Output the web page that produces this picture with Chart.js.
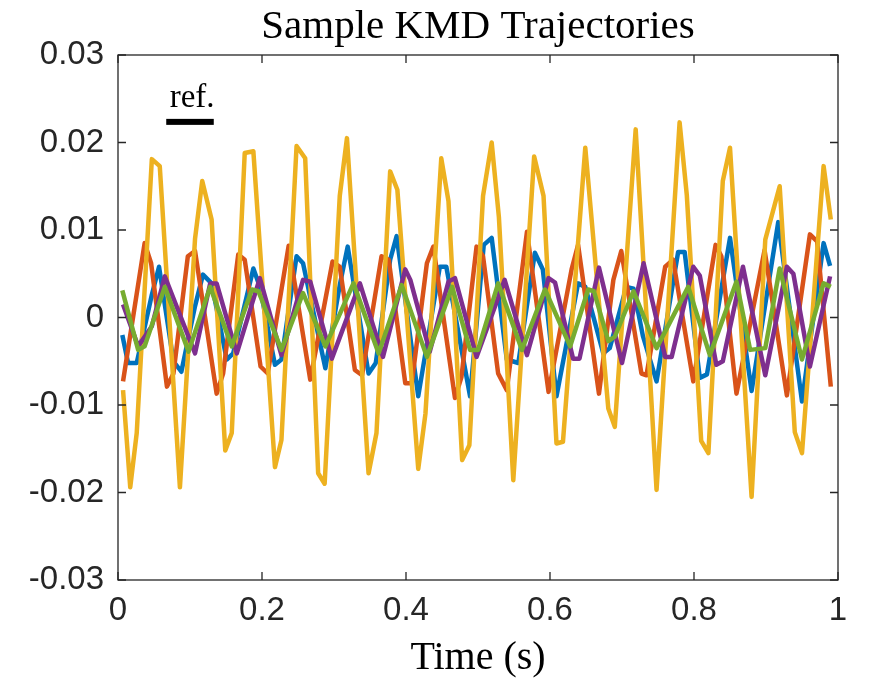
<!DOCTYPE html>
<html>
<head>
<meta charset="utf-8">
<script src="https://cdn.jsdelivr.net/npm/chart.js@4.4.0/dist/chart.umd.min.js"></script>
<style>
  html, body { margin: 0; padding: 0; background: #fff; }
  #wrap { width: 869px; height: 678px; }
</style>
</head>
<body>
<div id="wrap"><canvas id="kmdChart" width="869" height="678"></canvas></div>
<script>
// trajectory vertices (time in s, value)
const blueT = [0.006,0.014,0.026,0.047,0.057,0.077,0.088,0.107,0.118,0.130,0.151,0.160,0.188,0.197,0.218,0.227,0.248,0.257,0.288,0.308,0.319,0.348,0.358,0.378,0.387,0.417,0.447,0.456,0.489,0.508,0.519,0.540,0.556,0.579,0.590,0.609,0.639,0.649,0.674,0.683,0.706,0.716,0.729,0.748,0.778,0.787,0.808,0.818,0.850,0.880,0.917,0.950,0.980,0.989];
const blueV = [-0.0020,-0.0052,-0.0052,0.0026,0.0058,-0.0050,-0.0062,0.0013,0.0049,0.0039,-0.0048,-0.0041,0.0056,0.0035,-0.0054,-0.0048,0.0070,0.0062,-0.0058,0.0037,0.0081,-0.0064,-0.0052,0.0066,0.0093,-0.0090,0.0058,0.0058,-0.0090,0.0083,0.0091,-0.0048,-0.0052,0.0074,0.0055,-0.0090,0.0039,0.0035,-0.0041,-0.0035,0.0035,0.0033,-0.0021,-0.0073,0.0075,0.0075,-0.0069,-0.0065,0.0091,-0.0084,0.0109,-0.0096,0.0085,0.0059];

const orangeT = [0.007,0.037,0.046,0.068,0.077,0.097,0.107,0.137,0.146,0.167,0.176,0.198,0.208,0.237,0.267,0.298,0.308,0.329,0.339,0.366,0.376,0.399,0.408,0.429,0.438,0.468,0.477,0.498,0.507,0.528,0.540,0.568,0.598,0.630,0.639,0.668,0.688,0.699,0.727,0.734,0.760,0.771,0.799,0.830,0.838,0.859,0.898,0.929,0.961,0.971,0.990];
const orangeV = [-0.0073,0.0085,0.0062,-0.0079,-0.0064,0.0070,0.0076,-0.0087,-0.0064,0.0072,0.0066,-0.0056,-0.0064,0.0082,-0.0071,0.0064,0.0058,-0.0060,-0.0066,0.0070,0.0066,-0.0075,-0.0075,0.0062,0.0081,-0.0092,-0.0068,0.0081,0.0070,-0.0064,-0.0083,0.0098,-0.0085,0.0055,0.0083,-0.0087,0.0043,0.0076,-0.0064,-0.0066,0.0058,0.0066,-0.0073,0.0083,0.0070,-0.0087,0.0077,-0.0089,0.0095,0.0087,-0.0079];

const yellowT = [0.007,0.017,0.026,0.047,0.058,0.086,0.107,0.117,0.130,0.149,0.158,0.176,0.188,0.218,0.227,0.248,0.260,0.278,0.287,0.308,0.318,0.348,0.359,0.378,0.388,0.417,0.427,0.449,0.459,0.478,0.488,0.507,0.519,0.529,0.549,0.578,0.591,0.609,0.618,0.649,0.681,0.690,0.719,0.748,0.780,0.790,0.810,0.820,0.840,0.850,0.880,0.899,0.919,0.940,0.950,0.980,0.990];
const yellowV = [-0.0083,-0.0194,-0.0132,0.0181,0.0173,-0.0194,0.0090,0.0156,0.0112,-0.0152,-0.0132,0.0188,0.0190,-0.0171,-0.0140,0.0196,0.0182,-0.0178,-0.0190,0.0139,0.0205,-0.0178,-0.0132,0.0167,0.0146,-0.0173,-0.0110,0.0182,0.0133,-0.0163,-0.0146,0.0139,0.0200,0.0115,-0.0186,0.0184,0.0139,-0.0144,-0.0142,0.0194,-0.0104,-0.0125,0.0215,-0.0197,0.0223,0.0140,-0.0141,-0.0155,0.0156,0.0194,-0.0205,0.0089,0.0150,-0.0131,-0.0155,0.0173,0.0112];

const purpleT = [0.007,0.028,0.047,0.065,0.107,0.128,0.137,0.165,0.197,0.227,0.257,0.267,0.297,0.336,0.368,0.399,0.406,0.433,0.459,0.468,0.498,0.537,0.568,0.598,0.607,0.632,0.641,0.668,0.700,0.730,0.760,0.769,0.799,0.808,0.831,0.840,0.868,0.899,0.929,0.938,0.961,0.989];
const purpleV = [0.0015,-0.0033,-0.0010,0.0047,-0.0041,0.0039,0.0039,-0.0041,0.0045,-0.0043,0.0043,0.0041,-0.0047,0.0039,-0.0045,0.0055,0.0043,-0.0039,0.0041,0.0045,-0.0045,0.0043,-0.0043,0.0045,0.0040,-0.0047,-0.0047,0.0057,-0.0052,0.0062,-0.0045,-0.0045,0.0058,0.0048,-0.0054,-0.0050,0.0058,-0.0066,0.0058,0.0050,-0.0056,0.0047];

const greenT = [0.006,0.028,0.037,0.065,0.098,0.128,0.158,0.186,0.195,0.227,0.257,0.288,0.327,0.362,0.394,0.429,0.464,0.489,0.500,0.528,0.561,0.593,0.628,0.653,0.661,0.681,0.690,0.716,0.748,0.792,0.822,0.859,0.878,0.899,0.919,0.950,0.980,0.990];
const greenV = [0.0031,-0.0037,-0.0033,0.0035,-0.0039,0.0035,-0.0033,0.0032,0.0030,-0.0037,0.0028,-0.0033,0.0039,-0.0041,0.0037,-0.0045,0.0035,-0.0037,-0.0037,0.0039,-0.0037,0.0032,-0.0033,0.0032,0.0030,-0.0027,-0.0022,0.0030,-0.0035,0.0035,-0.0043,0.0041,-0.0037,-0.0035,0.0056,-0.0048,0.0039,0.0035];

const xTickValues = [0, 0.2, 0.4, 0.6, 0.8, 1];
const xTickLabels = ['0', '0.2', '0.4', '0.6', '0.8', '1'];
const yTickValues = [-0.03, -0.02, -0.01, 0, 0.01, 0.02, 0.03];
const yTickLabels = ['-0.03', '-0.02', '-0.01', '0', '0.01', '0.02', '0.03'];

function toPoints(t, v) {
    return t.map((x, i) => ({ x: x, y: v[i] }));
}

function labelFor(values, labels, v) {
    const i = values.findIndex(a => Math.abs(a - v) < 1e-9);
    return i >= 0 ? labels[i] : '';
}

function line(label, t, v, color, order) {
    return {
        label: label,
        data: toPoints(t, v),
        borderColor: color,
        backgroundColor: color,
        borderWidth: 4.5,
        borderJoinStyle: 'round',
        pointRadius: 0,
        tension: 0,
        order: order
    };
}

const serifFamily = '"Liberation Serif", "Times New Roman", serif';

// matlab style box with inward ticks, the title over the axes and the "ref." bar
const axesBox = {
    id: 'axesBox',
    afterDatasetsDraw(chart) {
        const { ctx, chartArea: a, scales: { x, y } } = chart;
        ctx.save();
        ctx.strokeStyle = '#262626';
        ctx.lineWidth = 1.3;
        ctx.strokeRect(a.left, a.top, a.right - a.left, a.bottom - a.top);
        const len = 8;
        ctx.beginPath();
        xTickValues.forEach(v => {
            const px = x.getPixelForValue(v);
            ctx.moveTo(px, a.bottom); ctx.lineTo(px, a.bottom - len);
            ctx.moveTo(px, a.top); ctx.lineTo(px, a.top + len);
        });
        yTickValues.forEach(v => {
            const py = y.getPixelForValue(v);
            ctx.moveTo(a.left, py); ctx.lineTo(a.left + len, py);
            ctx.moveTo(a.right, py); ctx.lineTo(a.right - len, py);
        });
        ctx.stroke();

        ctx.fillStyle = '#000';
        ctx.textAlign = 'center';
        ctx.textBaseline = 'alphabetic';
        ctx.font = '41px ' + serifFamily;
        ctx.fillText('Sample KMD Trajectories', (a.left + a.right) / 2, 38);

        ctx.font = '33px ' + serifFamily;
        ctx.fillText('ref.', x.getPixelForValue(0.103), y.getPixelForValue(0.0241));
        const x0 = x.getPixelForValue(0.067);
        const x1 = x.getPixelForValue(0.133);
        ctx.fillRect(x0, y.getPixelForValue(0.0227), x1 - x0, 6);
        ctx.restore();
    }
};

const tickFont = { family: '"Liberation Sans", Arial, sans-serif', size: 33 };

new Chart(document.getElementById('kmdChart'), {
    type: 'line',
    data: {
        datasets: [
            line('Trajectory 1', blueT, blueV, '#0072BD', 4),
            line('Trajectory 2', orangeT, orangeV, '#D95319', 3),
            line('Trajectory 3', yellowT, yellowV, '#EDB120', 2),
            line('Trajectory 4', purpleT, purpleV, '#7E2F8E', 1),
            line('Trajectory 5', greenT, greenV, '#77AC30', 0)
        ]
    },
    options: {
        responsive: false,
        animation: false,
        devicePixelRatio: 1,
        layout: { padding: { left: 0, right: 31, top: 55, bottom: 0 } },
        plugins: {
            legend: { display: false },
            tooltip: { enabled: false },
            title: { display: false }
        },
        scales: {
            x: {
                type: 'linear',
                min: 0,
                max: 1,
                grid: { display: false, drawTicks: false },
                border: { display: false },
                ticks: {
                    stepSize: 0.2,
                    color: '#262626',
                    font: tickFont,
                    padding: 11,
                    maxRotation: 0,
                    callback: v => labelFor(xTickValues, xTickLabels, v)
                },
                title: {
                    display: true,
                    text: 'Time (s)',
                    color: '#000',
                    font: { family: serifFamily, size: 40, lineHeight: 1 },
                    padding: { top: 0, bottom: 0 }
                },
                afterFit: s => { s.height = 98; }
            },
            y: {
                min: -0.03,
                max: 0.03,
                grid: { display: false, drawTicks: false },
                border: { display: false },
                ticks: {
                    stepSize: 0.01,
                    color: '#262626',
                    font: tickFont,
                    padding: 14,
                    callback: v => labelFor(yTickValues, yTickLabels, v)
                },
                afterFit: s => { s.width = 118; }
            }
        }
    },
    plugins: [axesBox]
});
</script>
</body>
</html>
